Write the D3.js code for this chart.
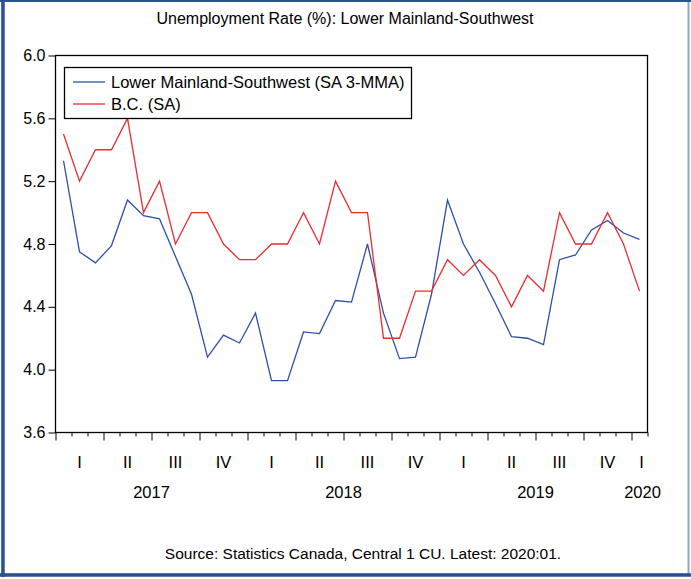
<!DOCTYPE html>
<html><head><meta charset="utf-8">
<script src="https://cdn.jsdelivr.net/npm/d3@7"></script>
<style>
html,body{margin:0;padding:0;background:#fff;}
text{font-family:"Liberation Sans",Arial,sans-serif;fill:#000;}
</style></head>
<body><svg id="c" width="691" height="579"></svg>
<script>
// Monthly data 2017:01 .. 2020:01
const years = [2017, 2018, 2019, 2020];
const quarterLabels = ["I", "II", "III", "IV"];
const yTicks = [3.6, 4.0, 4.4, 4.8, 5.2, 5.6, 6.0];
const lowerMainland = [5.33, 4.75, 4.68, 4.79, 5.08, 4.98, 4.96, 4.72, 4.48, 4.08, 4.22, 4.17,
  4.36, 3.93, 3.93, 4.24, 4.23, 4.44, 4.43, 4.80, 4.36, 4.07, 4.08, 4.48,
  5.08, 4.80, 4.62, 4.42, 4.21, 4.20, 4.16, 4.70, 4.73, 4.89, 4.95, 4.87, 4.83];
const bc = [5.5, 5.2, 5.4, 5.4, 5.6, 5.0, 5.2, 4.8, 5.0, 5.0, 4.8, 4.7,
  4.7, 4.8, 4.8, 5.0, 4.8, 5.2, 5.0, 5.0, 4.2, 4.2, 4.5, 4.5,
  4.7, 4.6, 4.7, 4.6, 4.4, 4.6, 4.5, 5.0, 4.8, 4.8, 5.0, 4.8, 4.5];
const seriesNames = ["Lower Mainland-Southwest (SA 3-MMA)", "B.C. (SA)"];
const seriesColors = ["#2E4FA8", "#EE2B2F"];
const title = "Unemployment Rate (%): Lower Mainland-Southwest";
const source = "Source: Statistics Canada, Central 1 CU. Latest: 2020:01.";

const svg = d3.select("#c");
const nM = lowerMainland.length;
const L = 55.5, R = 647.5, T = 55.5, B = 432.5;
const x = d3.scaleLinear().domain([0, nM]).range([L, R]);
const y = d3.scaleLinear().domain([3.6, 6.0]).range([B, T]);

// frame
svg.append("rect").attr("x", 0).attr("y", 0).attr("width", 691).attr("height", 579).attr("fill", "#fff");
svg.append("rect").attr("x", 2.5).attr("y", 1).attr("width", 686).attr("height", 573.5)
  .attr("fill", "none").attr("stroke", "#8AA6CC").attr("stroke-width", 2);
svg.append("line").attr("x1", 0).attr("x2", 691).attr("y1", 1).attr("y2", 1).attr("stroke", "#2A5190").attr("stroke-width", 2);
svg.append("line").attr("x1", 3).attr("x2", 3).attr("y1", 0).attr("y2", 577).attr("stroke", "#2A5190").attr("stroke-width", 3.5);
svg.append("line").attr("x1", 0).attr("x2", 691).attr("y1", 575).attr("y2", 575).attr("stroke", "#2A5190").attr("stroke-width", 3.5);

// title
svg.append("text").attr("x", 345).attr("y", 24).attr("text-anchor", "middle")
  .attr("font-size", 16).text(title);

// y axis
const yAxis = d3.axisLeft(y).tickValues(yTicks).tickSize(7).tickPadding(3).tickFormat(d3.format(".1f"));
const gy = svg.append("g").attr("transform", `translate(${L},0)`).call(yAxis);
gy.select(".domain").remove();
gy.selectAll("text").attr("font-size", 16).attr("font-family", '"Liberation Sans",Arial,sans-serif').attr("fill", "#000");
gy.selectAll("line").attr("stroke", "#000");

// x ticks (month boundaries)
const monthBounds = d3.range(0, nM + 1);
const xAxis = d3.axisBottom(x).tickValues(monthBounds).tickSize(4).tickFormat("");
const gx = svg.append("g").attr("transform", `translate(0,${B})`).call(xAxis);
gx.select(".domain").remove();
gx.selectAll(".tick line").attr("stroke", "#000").attr("y2", d => d % 3 === 0 ? 8 : 4);

// quarter labels
const quarters = d3.range(0, Math.ceil(nM / 3));
svg.append("g").selectAll("text").data(quarters).join("text")
  .attr("x", q => x(Math.min(q * 3 + 1.5, nM - 0.5)) + (q * 3 + 1.5 > nM ? 2 : 0))
  .attr("y", 468).attr("text-anchor", "middle").attr("font-size", 16.5)
  .text(q => quarterLabels[q % 4]);

// year labels
svg.append("g").selectAll("text").data(years).join("text")
  .attr("x", (yr, i) => {
    const s = i * 12, e = Math.min(s + 12, nM);
    const c = (s + e) / 2;
    return e - s < 12 ? x(c) + 3 : x(c);
  })
  .attr("y", 498).attr("text-anchor", "middle").attr("font-size", 16.5)
  .text(d => d);

// source
svg.append("text").attr("x", 363).attr("y", 559).attr("text-anchor", "middle")
  .attr("font-size", 15.5).text(source);

// plot box
svg.append("rect").attr("x", L).attr("y", T).attr("width", R - L).attr("height", B - T)
  .attr("fill", "none").attr("stroke", "#000").attr("stroke-width", 1.3);

// lines
const line = d3.line().x((d, i) => x(i + 0.5)).y(d => y(d));
[lowerMainland, bc].forEach((s, k) => {
  svg.append("path").datum(s).attr("d", line).attr("fill", "none")
    .attr("stroke", seriesColors[k]).attr("stroke-width", 1.3).attr("stroke-linejoin", "miter");
});

// legend
const lg = svg.append("g");
lg.append("rect").attr("x", 64.5).attr("y", 67.5).attr("width", 347).attr("height", 51)
  .attr("fill", "#fff").attr("stroke", "#000").attr("stroke-width", 1.3);
seriesNames.forEach((n, k) => {
  const yy = 82 + k * 22;
  lg.append("line").attr("x1", 73).attr("x2", 105).attr("y1", yy).attr("y2", yy)
    .attr("stroke", seriesColors[k]).attr("stroke-width", 1.3);
  lg.append("text").attr("x", 111).attr("y", yy + 6).attr("font-size", 16.5).text(n);
});
</script></body></html>
